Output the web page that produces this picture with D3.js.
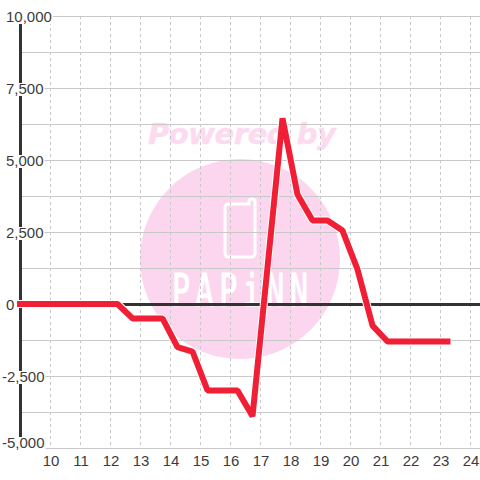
<!DOCTYPE html>
<html><head><meta charset="utf-8">
<script src="https://cdn.jsdelivr.net/npm/d3@7/dist/d3.min.js"></script>
<style>html,body{margin:0;padding:0;background:#fff}svg{display:block}</style>
</head><body><svg id="c" width="480" height="480"></svg>
<script>
const hours=[9,12.25,12.75,13.75,14.25,14.75,15.25,16.25,16.75,17.75,18.25,18.75,19.25,19.75,20.25,20.75,21.25,23.25];
const values=[0,0,-500,-500,-1500,-1650,-3000,-3000,-3900,6450,3800,2900,2900,2550,1200,-750,-1300,-1300];
const xTicks=[10,11,12,13,14,15,16,17,18,19,20,21,22,23,24];
const yMajor=[10000,7500,5000,2500,0,-2500,-5000];
const yMinor=[8750,6250,3750,1250,-1250,-3750];

const svg=d3.select('#c');
const x=d3.scaleLinear().domain([10,24]).range([50,470]);
const y=d3.scaleLinear().domain([-5000,10000]).range([448,16]);
const FONT='"Liberation Sans",Arial,sans-serif';
const INK='#333333',LABEL='#3c3c3c',GRID='#c8c8c8',RED='#f01f36',PINK='#fbd6ee';

// watermark
const wm=svg.append('g');
wm.append('circle').attr('cx',240).attr('cy',259).attr('r',100).attr('fill',PINK);
wm.append('text').attr('x',148).attr('y',144).text('Powered by')
  .attr('font-family','"DejaVu Sans"').attr('font-weight','bold').attr('font-style','italic')
  .attr('font-size',29).attr('textLength',188).attr('fill','#fcdaf0').attr('stroke','#fcdaf0').attr('stroke-width',0.4);
wm.append('path').attr('d','M225 208 Q225 204 229 204 L249 204 L249 201 Q249 199 252 199 Q255 199 255 201 L255 253 Q255 257 251 257 L229 257 Q225 257 225 253 Z')
  .attr('fill','none').attr('stroke','#fff').attr('stroke-width',3);
wm.append('text').attr('transform','translate(172,306) scale(1,1.5)').text('PAPiNN')
  .attr('font-family','"DejaVu Sans Mono"').attr('font-size',30).attr('textLength',136)
  .attr('fill','#fff').attr('stroke','#fff').attr('stroke-width',0.8);

// grid
svg.append('g').attr('transform','translate(0,0.5)').selectAll('line').data(yMajor.concat(yMinor)).join('line')
  .attr('x1',20).attr('x2',480).attr('y1',d=>y(d)).attr('y2',d=>y(d))
  .attr('stroke',GRID).attr('stroke-width',1);
svg.append('g').attr('transform','translate(0.5,0)').selectAll('line').data(xTicks).join('line')
  .attr('x1',d=>x(d)).attr('x2',d=>x(d)).attr('y1',y(10000)).attr('y2',y(-5000))
  .attr('stroke',GRID).attr('stroke-width',1).attr('stroke-dasharray','3 3');

// axis lines
svg.append('line').attr('x1',20.5).attr('x2',20.5).attr('y1',16).attr('y2',448).attr('stroke',INK).attr('stroke-width',3);
svg.append('line').attr('x1',20).attr('x2',480).attr('y1',y(0)+0.5).attr('y2',y(0)+0.5).attr('stroke',INK).attr('stroke-width',3);

// y labels (white-backed, interrupting axis and grid)
const fmt=v=>d3.format(',')(v).replace('\u2212','-');
const yl=svg.append('g');
yMajor.forEach(v=>{
  const bottom=v===-5000;
  const g=yl.append('g').attr('transform',`translate(${v<0?2:6},${(bottom?y(v)-6:y(v))+6})`);
  const r=g.append('rect').attr('fill','#fff');
  const t=g.append('text').text(fmt(v)).attr('font-family',FONT).attr('font-size',15).attr('fill',LABEL);
  if(v!==0){
    const b=t.node().getBBox();
    r.attr('x',b.x-1).attr('y',-11).attr('width',b.width+2).attr('height',bottom?19:13);
  }
});

// x labels
svg.append('g').selectAll('text').data(xTicks).join('text')
  .attr('x',d=>x(d)+1).attr('y',466).attr('text-anchor','middle')
  .attr('font-family',FONT).attr('font-size',15).attr('fill',LABEL).text(d=>d);

// series
const line=d3.line().x((d,i)=>x(hours[i])).y(d=>y(d));
svg.append('path').attr('d',line(values)).attr('fill','none').attr('stroke','#fff').attr('stroke-width',8)
  .attr('stroke-linejoin','bevel').attr('stroke-linecap','square');
svg.append('path').attr('d',line(values)).attr('fill','none').attr('stroke',RED).attr('stroke-width',6)
  .attr('stroke-linejoin','bevel').attr('stroke-linecap','square');
</script></body></html>
